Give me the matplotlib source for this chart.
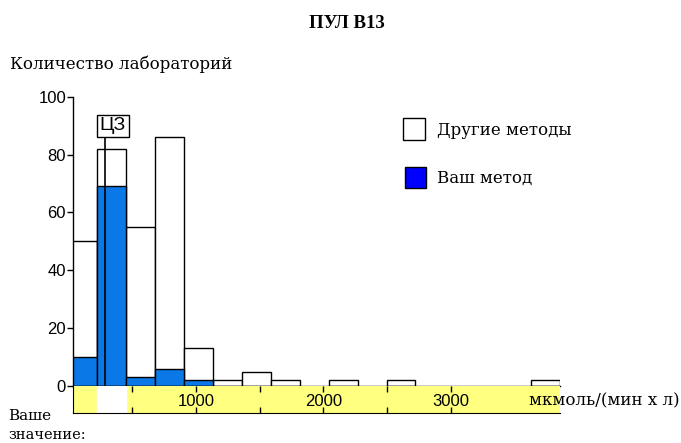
import numpy as np
import matplotlib
matplotlib.use('Agg')
import matplotlib.pyplot as plt
from matplotlib.patches import Rectangle

# Histogram data (bins of 227 units starting at 0)
bin_width = 227
bin_edges = np.arange(18) * bin_width
x_min = 35
other_methods = [50, 82, 55, 86, 13, 2, 5, 2, 0, 2, 0, 2, 0, 0, 0, 0, 2]
your_method = [10, 69, 3, 6, 2, 0, 0, 0, 0, 0, 0, 0, 0, 0, 0, 0, 0]
target_value = 286          # ЦЗ marker
your_bin = 1                # bin highlighted in the strip
y_ticks = [0, 20, 40, 60, 80, 100]
x_labels = [1000, 2000, 3000]
x_ticks = [500, 1000, 1500, 2000, 2500, 3000]

W, H = 681, 443
bar_blue = '#0A78E6'
legend_blue = '#0000FF'
strip_yellow = '#FFFF80'
serif = 'DejaVu Serif'
sans = 'Liberation Sans'


def px(l, t, r, b):
    return [l / W, 1 - b / H, (r - l) / W, (b - t) / H]


fig = plt.figure(figsize=(W / 100, H / 100), dpi=100)

ax = fig.add_axes(px(73, 96.7, 560, 386))
ax.set_xlim(x_min, bin_edges[-1])
ax.set_ylim(0, 100)
for s in ['top', 'right']:
    ax.spines[s].set_visible(False)
ax.spines['left'].set_linewidth(1)
ax.spines['bottom'].set_linewidth(1)
ax.set_xticks([])
ax.set_yticks(y_ticks)
ax.tick_params(axis='y', length=4, width=1, pad=1, labelsize=12)
for lab in ax.get_yticklabels():
    lab.set_fontfamily(sans)

lefts = bin_edges[:-1]
for x0, h in zip(lefts, other_methods):
    if h > 0:
        ax.bar(x0, h, width=bin_width, align='edge', facecolor='white',
               edgecolor='black', linewidth=1)
for x0, h in zip(lefts, your_method):
    if h > 0:
        ax.bar(x0, h, width=bin_width, align='edge', facecolor=bar_blue,
               edgecolor='black', linewidth=1)

# ЦЗ marker
ax.plot([target_value, target_value], [0, 85.7], color='black', lw=1.2)
ax.text(target_value - 42, 89.9, 'ЦЗ', ha='left', va='center', fontsize=14,
        family=sans,
        bbox=dict(boxstyle='square,pad=0.14', facecolor='white',
                  edgecolor='black', linewidth=1))

# yellow strip with tick labels
strip = fig.add_axes(px(73, 386, 560, 413))
strip.set_xlim(x_min, bin_edges[-1])
strip.set_ylim(0, 1)
strip.set_facecolor(strip_yellow)
strip.axvspan(bin_edges[your_bin], bin_edges[your_bin + 1], color='white')
strip.spines['right'].set_visible(False)
strip.spines['top'].set_visible(False)
strip.set_yticks([])
strip.set_xticks(x_ticks)
strip.set_xticklabels([str(t) if t in x_labels else '' for t in x_ticks])
strip.tick_params(axis='x', direction='in', length=4, width=1, top=True,
                  bottom=True, pad=-14, labelsize=12)
for lab in strip.get_xticklabels():
    lab.set_fontfamily(sans)

# texts
fig.text(347 / W, 1 - 24 / H, 'ПУЛ В13', ha='center', va='center',
         fontsize=13.5, fontweight='bold', family='Liberation Serif')
fig.text(10 / W, 1 - 64 / H, 'Количество лабораторий', ha='left',
         va='center', fontsize=12, family=serif)
fig.text(529 / W, 1 - 401 / H, 'мкмоль/(мин х л)', ha='left', va='center',
         fontsize=12, family=serif)
fig.text(8 / W, 1 - 416 / H, 'Ваше', ha='left', va='center', fontsize=11,
         family=serif)
fig.text(8 / W, 1 - 435 / H, 'значение:', ha='left', va='center',
         fontsize=10.5, family=serif)

# legend
fig.patches.append(Rectangle((403 / W, 1 - 140 / H), 22 / W, 22 / H,
                             transform=fig.transFigure, facecolor='white',
                             edgecolor='black', linewidth=1))
fig.text(437 / W, 1 - 130 / H, 'Другие методы', ha='left', va='center',
         fontsize=12, family=serif)
fig.patches.append(Rectangle((405 / W, 1 - 188 / H), 21 / W, 21 / H,
                             transform=fig.transFigure, facecolor=legend_blue,
                             edgecolor='black', linewidth=1))
fig.text(437 / W, 1 - 178 / H, 'Ваш метод', ha='left', va='center',
         fontsize=12, family=serif)

fig.savefig('out.png', dpi=100)
